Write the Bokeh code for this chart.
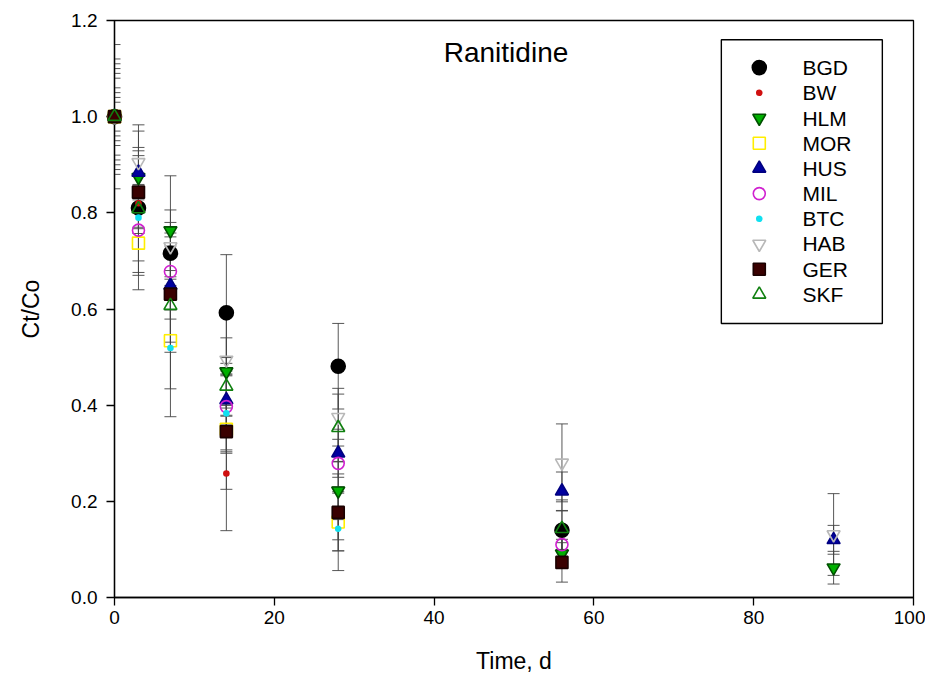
from bokeh.plotting import figure
from bokeh.models import ColumnDataSource, Whisker, TeeHead, FixedTicker, Label
from bokeh.embed import file_html
from bokeh.resources import INLINE

# ---------------- data ----------------
times = [0, 3, 7, 14, 28, 56, 90]
series_names = ["BGD", "BW", "HLM", "MOR", "HUS", "MIL", "BTC", "HAB", "GER", "SKF"]

BGD = [1.0, 0.810, 0.716, 0.592, 0.481, 0.140, None]
BW  = [1.0, 0.820, 0.630, 0.258, 0.170, None, None]
HLM = [1.0, 0.874, 0.763, 0.470, 0.222, 0.091, 0.062]
MOR = [1.0, 0.737, 0.534, 0.350, 0.157, None, None]
HUS = [1.0, 0.884, 0.649, 0.411, 0.300, 0.221, 0.120]
MIL = [1.0, 0.764, 0.678, 0.397, 0.279, 0.110, None]
BTC = [1.0, 0.790, 0.519, 0.383, 0.143, None, None]
HAB = [1.0, 0.905, 0.730, 0.494, 0.375, 0.280, 0.131]
GER = [1.0, 0.843, 0.631, 0.345, 0.177, 0.073, None]
SKF = [1.0, 0.808, 0.607, 0.439, 0.353, 0.143, None]

BGD_err = [0.15, 0.040, 0.090, 0.121, 0.089, 0.040, None]
BW_err  = [0.12, 0.150, 0.120, 0.119, 0.050, None, None]
HLM_err = [0.10, 0.055, 0.114, 0.070, 0.060, 0.030, 0.034]
MOR_err = [0.08, 0.097, 0.100, 0.050, 0.060, None, None]
HUS_err = [0.06, 0.052, 0.070, 0.050, 0.050, 0.040, 0.030]
MIL_err = [0.05, 0.088, 0.080, 0.090, 0.050, 0.030, None]
BTC_err = [0.04, 0.090, 0.143, 0.080, 0.087, None, None]
HAB_err = [0.09, 0.078, 0.050, 0.100, 0.060, 0.081, 0.085]
GER_err = [0.11, 0.076, 0.100, 0.120, 0.080, 0.041, None]
SKF_err = [0.03, 0.051, 0.060, 0.060, 0.070, 0.060, None]

x_ticks = [0, 20, 40, 60, 80, 100]
y_ticks = [0.0, 0.2, 0.4, 0.6, 0.8, 1.0, 1.2]
y_tick_labels = ["0.0", "0.2", "0.4", "0.6", "0.8", "1.0", "1.2"]

title_text = "Ranitidine"
x_label = "Time, d"
y_label = "Ct/Co"

values = [BGD, BW, HLM, MOR, HUS, MIL, BTC, HAB, GER, SKF]
errors = [BGD_err, BW_err, HLM_err, MOR_err, HUS_err, MIL_err, BTC_err, HAB_err, GER_err, SKF_err]

# ---------------- styles ----------------
styles = {
    "BGD": dict(marker="circle", size=14, fill_color="black", line_color="black"),
    "BW": dict(marker="circle", size=5, fill_color="#d01010", line_color="#d01010"),
    "HLM": dict(marker="inverted_triangle", size=13, fill_color="#00b000", line_color="#005000"),
    "MOR": dict(marker="square", size=12, fill_color=None, line_color="#ffee00"),
    "HUS": dict(marker="triangle", size=13, fill_color="#0000a0", line_color="#000080"),
    "MIL": dict(marker="circle", size=12, fill_color=None, line_color="#d020d0"),
    "BTC": dict(marker="circle", size=5, fill_color="#10e0f0", line_color="#10e0f0"),
    "HAB": dict(marker="inverted_triangle", size=13, fill_color=None, line_color="#b8b8b8"),
    "GER": dict(marker="square", size=12, fill_color="#3a0000", line_color="#1a0000"),
    "SKF": dict(marker="triangle", size=13, fill_color=None, line_color="#108010"),
}

FONT = "Liberation Sans"

p = figure(width=925, height=685, x_range=(0, 100), y_range=(0, 1.2),
           output_backend="svg", toolbar_location=None,
           min_border_left=114, min_border_right=12, min_border_top=20, min_border_bottom=88)
p.grid.visible = False
p.outline_line_color = "black"
p.outline_line_width = 1.3
p.background_fill_color = "white"
p.border_fill_color = "white"

for ax in (p.xaxis[0], p.yaxis[0]):
    ax.axis_line_color = "black"
    ax.axis_line_width = 1.3
    ax.major_tick_out = 8
    ax.major_tick_in = 0
    ax.major_tick_line_color = "black"
    ax.major_tick_line_width = 1.3
    ax.minor_tick_out = 0
    ax.minor_tick_in = 0
    ax.major_label_text_font = FONT
    ax.major_label_text_font_size = "19px"
    ax.major_label_text_color = "black"
    ax.axis_label_text_font = FONT
    ax.axis_label_text_font_style = "normal"
    ax.axis_label_text_font_size = "23px"
    ax.axis_label_text_color = "black"

p.xaxis.ticker = FixedTicker(ticks=x_ticks)
p.yaxis.ticker = FixedTicker(ticks=y_ticks)
p.yaxis.major_label_overrides = {t: l for t, l in zip(y_ticks, y_tick_labels)}
p.xaxis.axis_label = x_label
p.yaxis.axis_label = y_label
p.xaxis.major_label_standoff = 5
p.yaxis.major_label_standoff = 9
p.xaxis.axis_label_standoff = 21
p.yaxis.axis_label_standoff = 24

# error bars
for name, vals, errs in zip(series_names, values, errors):
    xs, lo, hi = [], [], []
    for t, v, e in zip(times, vals, errs):
        if v is None or e is None:
            continue
        xs.append(t)
        lo.append(v - e)
        hi.append(v + e)
    src = ColumnDataSource(dict(x=xs, lower=lo, upper=hi))
    w = Whisker(source=src, base="x", lower="lower", upper="upper", dimension="height",
                line_color="#444444", line_width=0.9, level="glyph",
                upper_head=TeeHead(size=12, line_color="#444444", line_width=0.9),
                lower_head=TeeHead(size=12, line_color="#444444", line_width=0.9))
    p.add_layout(w)

# markers
for name, vals in zip(series_names, values):
    xs = [t for t, v in zip(times, vals) if v is not None]
    ys = [v for v in vals if v is not None]
    st = styles[name]
    r = p.scatter(xs, ys, marker=st["marker"], size=st["size"], fill_color=st["fill_color"],
                  line_color=st["line_color"], line_width=1.6)
    r.level = "annotation"

# title inside plot
p.add_layout(Label(x=49, y=1.133, text=title_text, text_font=FONT, text_font_size="28px",
                   text_align="center", text_baseline="middle", text_color="black"))

# legend (drawn manually to keep per-series marker sizes)
leg_left, leg_right, leg_top, leg_bottom = 75.95, 96.1, 1.160, 0.570
leg_marker_x, leg_text_x = 80.7, 86.1
leg_first_y, leg_dy = 1.102, 0.0524
p.quad(left=[leg_left], right=[leg_right], top=[leg_top], bottom=[leg_bottom],
       fill_color="white", line_color="black", line_width=1.4)
for i, name in enumerate(series_names):
    st = styles[name]
    yy = leg_first_y - i * leg_dy
    p.scatter([leg_marker_x], [yy], marker=st["marker"], size=st["size"],
              fill_color=st["fill_color"], line_color=st["line_color"], line_width=1.6)
    p.add_layout(Label(x=leg_text_x, y=yy, text=name, text_font=FONT, text_font_size="21px",
                       text_baseline="middle", text_align="left", text_color="black"))

open("out.html", "w").write(file_html(p, INLINE))
